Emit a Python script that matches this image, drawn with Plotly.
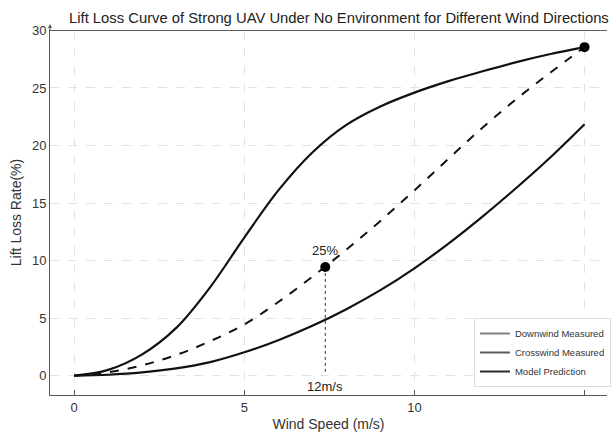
import plotly.graph_objects as go

wind = [0, 1, 2, 3, 4, 5, 6, 7, 8, 9, 10, 11, 12, 13, 14, 15]
crosswind = [0, 0.5, 1.85, 4.15, 7.7, 12.0, 16.1, 19.4, 21.8, 23.4, 24.6, 25.6, 26.45, 27.25, 27.95, 28.55]
model = [0, 0.3, 0.9, 1.8, 3.0, 4.45, 6.4, 8.6, 10.95, 13.45, 16.1, 18.85, 21.55, 24.05, 26.35, 28.55]
downwind = [0, 0.08, 0.28, 0.63, 1.18, 2.03, 3.08, 4.33, 5.78, 7.43, 9.33, 11.48, 13.83, 16.33, 18.98, 21.85]

mark_x = [7.38]
mark_y = [9.45]
mark_label = "25%"
mark_speed = "12m/s"
end_x = [15]
end_y = [28.55]

legend_names = ["Downwind Measured", "Crosswind Measured", "Model Prediction"]
legend_colors = ["#808080", "#5a5a5a", "#2a2a2a"]

x_ticks = [0, 5, 10, 15]
x_ticktext = ["0", "5", "10", ""]
y_ticks = [0, 5, 10, 15, 20, 25, 30]

fig = go.Figure()
spl = dict(shape="spline", smoothing=1.0)
fig.add_trace(go.Scatter(x=wind, y=crosswind, mode="lines", line=dict(color="#111", width=2.2, **spl), showlegend=False))
fig.add_trace(go.Scatter(x=wind, y=model, mode="lines", line=dict(color="#111", width=2, dash="dash", **spl), showlegend=False))
fig.add_trace(go.Scatter(x=wind, y=downwind, mode="lines", line=dict(color="#111", width=2.2, **spl), showlegend=False))
fig.add_trace(go.Scatter(x=[mark_x[0], mark_x[0]], y=[mark_y[0], 0.1], mode="lines", line=dict(color="#333", width=1, dash="dot"), showlegend=False))
fig.add_trace(go.Scatter(x=mark_x + end_x, y=mark_y + end_y, mode="markers", marker=dict(color="#000", size=10), showlegend=False))
for n, c in zip(legend_names, legend_colors):
    fig.add_trace(go.Scatter(x=[None], y=[None], mode="lines", name=n, line=dict(color=c, width=2)))

fig.add_annotation(x=mark_x[0], y=mark_y[0], text=mark_label, showarrow=False, yshift=16, font=dict(size=13, color="#222"))
fig.add_annotation(x=mark_x[0], y=0, text=mark_speed, showarrow=False, yshift=-11, font=dict(size=13, color="#222"))
fig.add_annotation(x=(67 - 50) / 561, xref="paper", y=1 + (30 - 18) / 365, yref="paper",
                   text="Lift Loss Curve of Strong UAV Under No Environment for Different Wind Directions",
                   showarrow=False, xanchor="left", yanchor="middle", font=dict(size=14.8, color="#222"))
# small arrow at top of y axis
fig.add_annotation(x=0, xref="paper", y=1 + 6 / 365, yref="paper", ax=0, ay=8, showarrow=True,
                   arrowhead=2, arrowsize=0.8, arrowwidth=1, arrowcolor="#555", text="")

fig.add_shape(type="line", xref="paper", yref="y", x0=0, x1=1, y0=30, y1=30, line=dict(color="#555", width=1))

fig.update_layout(
    width=611, height=437,
    margin=dict(l=50, r=0, t=30, b=42),
    paper_bgcolor="white", plot_bgcolor="white",
    font=dict(family="Liberation Sans, Arial, sans-serif", color="#333"),
    xaxis=dict(range=[-0.71, 15.66], tickvals=x_ticks, ticktext=x_ticktext, automargin=False,
               showgrid=True, gridcolor="#e2e2e2", griddash="dash", zeroline=False,
               showline=True, linecolor="#555", linewidth=1, ticks="inside", ticklen=5, tickcolor="#555",
               tickfont=dict(size=13), title=dict(text="Wind Speed (m/s)", font=dict(size=14), standoff=5)),
    yaxis=dict(range=[-1.68, 30.04], tickvals=y_ticks, automargin=False,
               showgrid=True, gridcolor="#e2e2e2", griddash="dash", zeroline=False,
               showline=True, linecolor="#555", linewidth=1, ticks="",
               tickfont=dict(size=13), title=dict(text="Lift Loss Rate(%)", font=dict(size=14), standoff=7)),
    legend=dict(x=(477 - 50) / 561, y=(395 - 318) / 365, xanchor="left", yanchor="top", bgcolor="white",
                bordercolor="#ddd", borderwidth=1, font=dict(size=9.5, color="#333"), tracegroupgap=0, itemwidth=30),
)
fig.write_html("out.html", config={"displayModeBar": False},
               post_script="document.body.style.margin='0';document.body.style.overflow='hidden';")
